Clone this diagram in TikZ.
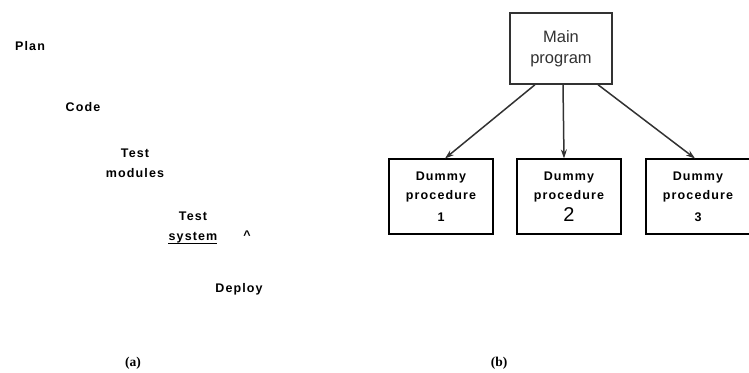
\documentclass[tikz,border=0pt]{standalone}
\usepackage{fontspec}
\setmainfont{Liberation Sans}
\newfontfamily\spacedfont[LetterSpace=9]{Liberation Sans}
\newfontfamily\captionfont{Liberation Serif}
\usetikzlibrary{arrows.meta}
\definecolor{scangray}{RGB}{50,50,50}

\begin{document}
\begin{tikzpicture}[x=1pt,y=-1pt,
  every node/.style={inner sep=0pt},
  phase/.style={font=\spacedfont\bfseries\fontsize{12.5}{20}\selectfont,
    align=center},
  mainbox/.style={draw=scangray, line width=1.4pt, text=scangray,
    font=\fontsize{16.5}{21}\selectfont, align=center,
    minimum width=102pt, minimum height=71pt},
  dummy/.style={draw, line width=1.1pt, align=center,
    font=\spacedfont\bfseries\fontsize{12.5}{19}\selectfont,
    minimum width=104pt, minimum height=75pt},
  subfig/.style={font=\captionfont\bfseries\fontsize{13.5}{14}\selectfont},
  arr/.style={-{Stealth[length=9pt,width=6pt]}, draw=scangray, line width=1.5pt},
]
\useasboundingbox (0,0) rectangle (749,372);

% (a) the stages
\node[phase] at ( 30, 46) (plan)    {Plan};
\node[phase] at ( 83,107) (code)    {Code};
\node[phase] at (135,163) (testmod) {Test\\modules};
\node[phase] at (193,227) (testsys) {Test\\system};
\node[phase] at (247,235) (caret)   {\^{}};
\node[phase] at (239,289) (deploy)  {Deploy};
\draw[line width=1.6pt] ([yshift=-0.5pt]testsys.south west) -- ([yshift=-0.5pt,xshift=-1pt]testsys.south east);

% (b) the program and its dummies
\node[mainbox] at (561, 48.5) (main) {Main\\program};
\node[dummy]   at (441,196.5) (dummy1) {Dummy\\procedure\\[3pt]1};
\node[dummy]   at (569,196.5) (dummy2) {Dummy\\procedure\\[3pt]{\mdseries\fontsize{20}{20}\selectfont 2}};
\node[dummy]   at (698,196.5) (dummy3) {Dummy\\procedure\\[3pt]3};

\draw[arr] ([xshift=-26pt]main.south) -- ([xshift=4pt]dummy1.north);
\draw[arr] ([xshift=2pt]main.south)   -- ([xshift=-5pt]dummy2.north);
\draw[arr] ([xshift=37pt]main.south)  -- ([xshift=-3pt]dummy3.north);

\node[subfig] at (133,363) (capa) {(a)};
\node[subfig] at (499,363) (capb) {(b)};
\end{tikzpicture}
\end{document}
